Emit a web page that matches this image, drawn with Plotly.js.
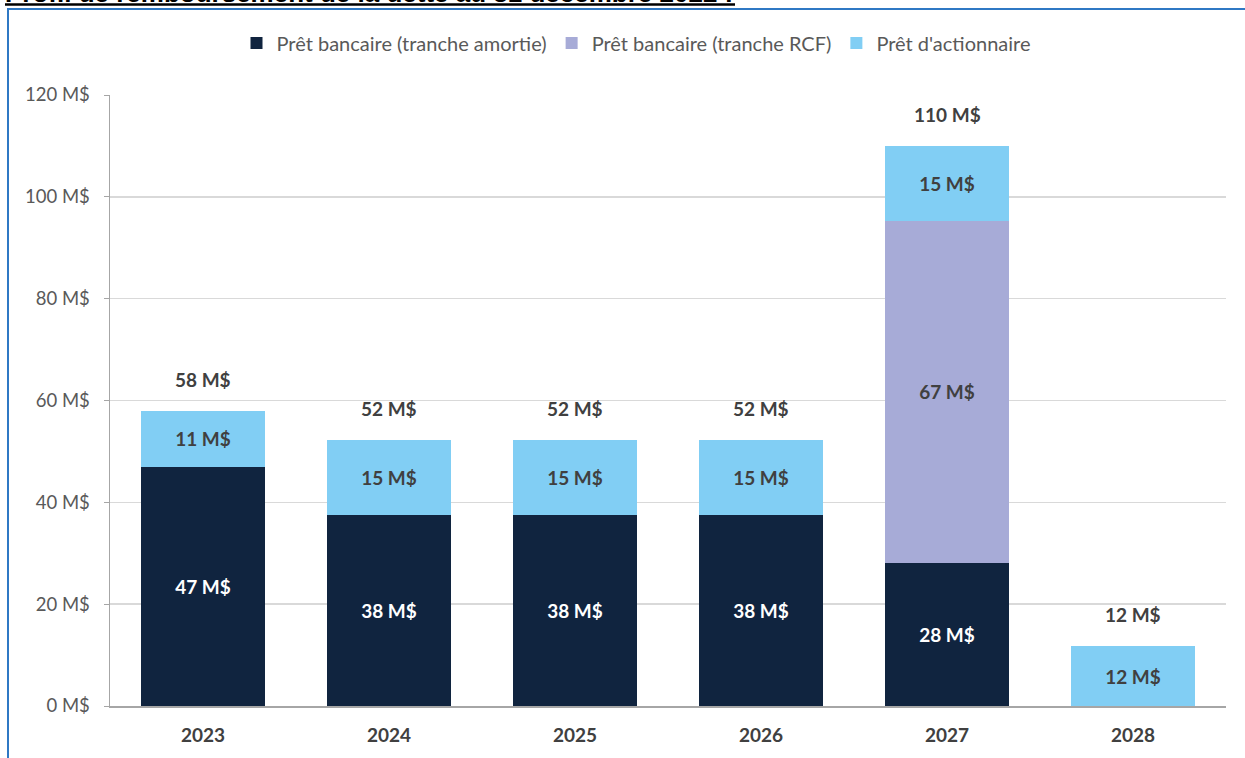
<!DOCTYPE html>
<html>
<head>
<meta charset="utf-8">
<script src="https://cdn.plot.ly/plotly-3.0.1.min.js"></script>
<style>html,body{margin:0;padding:0;background:#fff;}#chart{width:1245px;height:758px;}</style>
</head>
<body>
<div id="chart"></div>
<script>
const years = ['2023', '2024', '2025', '2026', '2027', '2028'];
const pretAmortie = [47, 37.5, 37.5, 37.5, 28.1, null];
const pretRCF = [null, null, null, null, 67.2, null];
const pretActionnaire = [11, 14.75, 14.75, 14.75, 14.7, 11.7];
const seriesNames = ['Prêt bancaire (tranche amortie)', 'Prêt bancaire (tranche RCF)', "Prêt d'actionnaire"];
const titleText = 'Profil de remboursement de la dette au 31 décembre 2022 :';

const FONT = 'Lato, "Open Sans", sans-serif';
const totals = years.map((_, i) => (pretAmortie[i] || 0) + (pretRCF[i] || 0) + (pretActionnaire[i] || 0));

function barTrace(name, vals, color, txtColor) {
  return {
    type: 'bar', name: name, x: years, y: vals,
    marker: {color: color, line: {width: 0}},
    texttemplate: '%{y:.0f} M$', textposition: 'inside', insidetextanchor: 'middle',
    textangle: 0, constraintext: 'none',
    textfont: {family: FONT, size: 19, color: txtColor, weight: 'bold'},
    hoverinfo: 'skip'
  };
}

const data = [
  barTrace(seriesNames[0], pretAmortie, '#10243f', '#ffffff'),
  barTrace(seriesNames[1], pretRCF, '#a7abd7', '#404040'),
  barTrace(seriesNames[2], pretActionnaire, '#81cef4', '#404040')
];

// pixel helpers (layout geometry)
const L = 110, R = 1226, T = 95, B = 706;
const px = x => (x - L) / (R - L);
const py = y => (B - y) / (B - T);

const annotations = years.map((yr, i) => ({
  x: i, y: totals[i], xref: 'x', yref: 'y',
  text: Math.round(totals[i]) + ' M$', showarrow: false,
  yanchor: 'bottom', yshift: 18,
  font: {family: FONT, size: 19, color: '#404040', weight: 'bold'}
}));
annotations.push({
  x: px(3), y: py(10), xref: 'paper', yref: 'paper', xanchor: 'left', yanchor: 'bottom',
  text: titleText, showarrow: false,
  font: {family: 'Liberation Sans, Arial, sans-serif', size: 26, color: '#000000', weight: 'bold'}
});

const layout = {
  width: 1245, height: 758,
  margin: {l: L, r: 1245 - R, t: T, b: 758 - B, pad: 0},
  paper_bgcolor: '#ffffff', plot_bgcolor: '#ffffff',
  barmode: 'stack', bargap: 0.333,
  font: {family: FONT, color: '#595959'},
  showlegend: true,
  legend: {
    orientation: 'h', x: px(636), xanchor: 'center', y: py(43), yanchor: 'middle',
    font: {family: FONT, size: 20, color: '#595959'}, traceorder: 'normal', itemclick: false
  },
  xaxis: {
    type: 'category', range: [-0.5, 5.5], autorange: false, showgrid: false, zeroline: false,
    showline: true, linecolor: '#a6a6a6', linewidth: 2, ticks: '', ticklabelstandoff: 11,
    tickfont: {family: FONT, size: 19, color: '#404040', weight: 'bold'}
  },
  yaxis: {
    range: [0, 120], autorange: false, dtick: 20, ticksuffix: ' M$',
    showgrid: true, gridcolor: '#d9d9d9', gridwidth: 1.5, zeroline: false,
    showline: true, linecolor: '#a6a6a6', linewidth: 1.5,
    ticks: 'outside', ticklen: 5, tickcolor: '#a6a6a6', ticklabelstandoff: 10,
    tickfont: {family: FONT, size: 18.5, color: '#595959'}
  },
  annotations: annotations,
  shapes: [
    {type: 'path', xref: 'paper', yref: 'paper',
     path: 'M ' + px(8) + ' ' + py(770) + ' L ' + px(8) + ' ' + py(9) + ' L ' + px(1260) + ' ' + py(9),
     line: {color: '#2f78c4', width: 2}},
    {type: 'line', xref: 'paper', yref: 'paper', x0: px(5), x1: px(735), y0: py(4.5), y1: py(4.5),
     line: {color: '#000000', width: 2.5}}
  ]
};

Plotly.newPlot('chart', data, layout, {displayModeBar: false, staticPlot: true});
</script>
</body>
</html>
